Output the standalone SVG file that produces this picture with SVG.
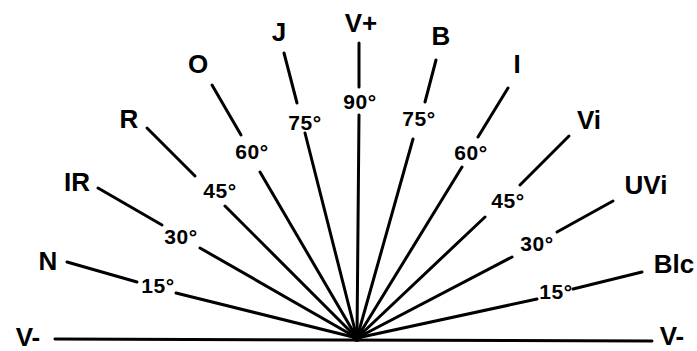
<svg xmlns="http://www.w3.org/2000/svg" width="697" height="351" viewBox="0 0 697 351">
<style>
.ln{stroke:#000;stroke-width:3;stroke-linecap:round;fill:none}
.lb{font-family:"Liberation Sans","DejaVu Sans",sans-serif;font-weight:bold;font-size:26px;fill:#000;text-anchor:middle}
.ag{font-family:"Liberation Sans","DejaVu Sans",sans-serif;font-weight:bold;font-size:21px;fill:#000;text-anchor:middle;letter-spacing:0.5px}
</style>
<rect width="697" height="351" fill="#fff"/>
<g id="connectors">
<line class="ln" x1="55" y1="339" x2="652" y2="341"/>
<line class="ln" x1="67" y1="262" x2="137" y2="282"/>
<line class="ln" x1="176" y1="293" x2="357" y2="338"/>
<line class="ln" x1="98" y1="188" x2="162" y2="225"/>
<line class="ln" x1="200" y1="248" x2="357" y2="338"/>
<line class="ln" x1="147" y1="128" x2="195" y2="176"/>
<line class="ln" x1="225" y1="206" x2="357" y2="338"/>
<line class="ln" x1="212" y1="85" x2="241" y2="135"/>
<line class="ln" x1="260" y1="172" x2="357" y2="338"/>
<line class="ln" x1="284" y1="53" x2="297" y2="103"/>
<line class="ln" x1="305" y1="133" x2="357" y2="338"/>
<line class="ln" x1="359" y1="43" x2="359" y2="87"/>
<line class="ln" x1="359" y1="115" x2="357" y2="338"/>
<line class="ln" x1="436" y1="60" x2="425" y2="102"/>
<line class="ln" x1="413" y1="139" x2="357" y2="338"/>
<line class="ln" x1="508" y1="88" x2="478" y2="137"/>
<line class="ln" x1="462" y1="167" x2="357" y2="338"/>
<line class="ln" x1="569" y1="136" x2="520" y2="185"/>
<line class="ln" x1="485" y1="217" x2="357" y2="338"/>
<line class="ln" x1="613" y1="201" x2="557" y2="232"/>
<line class="ln" x1="512" y1="257" x2="357" y2="338"/>
<line class="ln" x1="642" y1="272" x2="573" y2="289"/>
<line class="ln" x1="537" y1="299" x2="357" y2="338"/>
<circle cx="357" cy="337" r="5" fill="#000"/>
</g>
<g id="vminus-left"><text class="lb" x="28" y="346">V-</text></g>
<g id="N"><text class="lb" x="48" y="270">N</text><text class="ag" x="158" y="293">15°</text></g>
<g id="IR"><text class="lb" x="77" y="191">IR</text><text class="ag" x="181" y="244">30°</text></g>
<g id="R"><text class="lb" x="129" y="128">R</text><text class="ag" x="220" y="198">45°</text></g>
<g id="O"><text class="lb" x="198" y="73">O</text><text class="ag" x="252" y="159">60°</text></g>
<g id="J"><text class="lb" x="279" y="41">J</text><text class="ag" x="305" y="130">75°</text></g>
<g id="Vplus"><text class="lb" x="361" y="32">V+</text><text class="ag" x="360" y="109">90°</text></g>
<g id="B"><text class="lb" x="441" y="45">B</text><text class="ag" x="419" y="126">75°</text></g>
<g id="I"><text class="lb" x="517" y="73">I</text><text class="ag" x="471" y="160">60°</text></g>
<g id="Vi"><text class="lb" x="589" y="129">Vi</text><text class="ag" x="508" y="208">45°</text></g>
<g id="UVi"><text class="lb" x="646" y="194">UVi</text><text class="ag" x="537" y="251">30°</text></g>
<g id="Blc"><text class="lb" x="674" y="273">Blc</text><text class="ag" x="556" y="299">15°</text></g>
<g id="vminus-right"><text class="lb" x="672" y="345">V-</text></g>
</svg>
